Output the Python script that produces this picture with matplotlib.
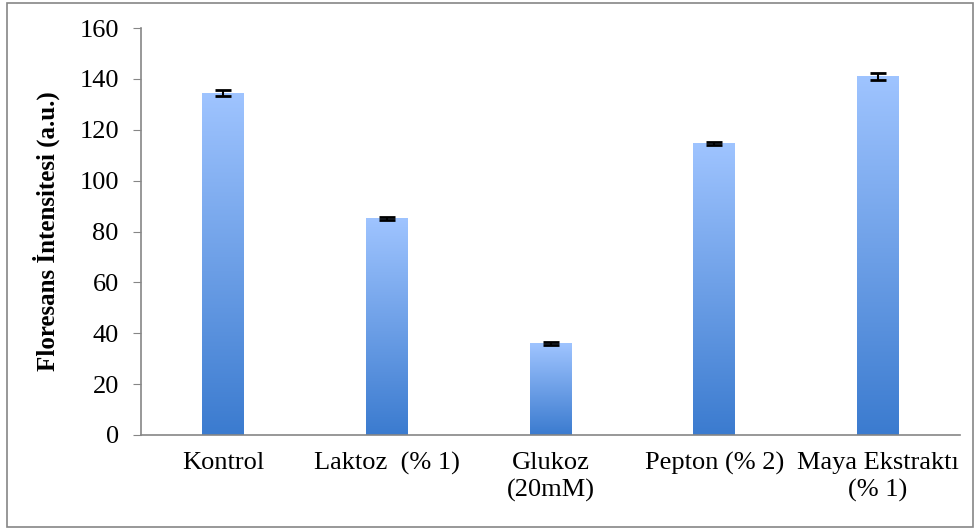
import numpy as np
import matplotlib.pyplot as plt
from matplotlib.patches import Rectangle
from matplotlib.colors import LinearSegmentedColormap

# veriler
kategoriler = ['Kontrol', 'Laktoz  (% 1)', 'Glukoz\n(20mM)', 'Pepton (% 2)', 'Maya Ekstraktı\n(% 1)']
degerler = [134.5, 85.2, 36.0, 114.6, 141.0]
hatalar = [1.0, 0.5, 0.5, 0.5, 1.5]

plt.rcParams['font.family'] = ['Liberation Serif', 'DejaVu Serif']

fig = plt.figure(figsize=(9.8, 5.31), dpi=100)
ax = fig.add_axes([0.1439, 0.181, 0.8357, 0.766])

x = np.arange(len(kategoriler))
bars = ax.bar(x, degerler, width=0.256, color='none', zorder=2)

# gradyan dolgu
cmap = LinearSegmentedColormap.from_list('mavi', ['#3b7bcf', '#9fc4ff'])
grad = np.linspace(0, 1, 256).reshape(-1, 1)
for b in bars:
    x0, w, h = b.get_x(), b.get_width(), b.get_height()
    ax.imshow(grad, cmap=cmap, origin='lower', aspect='auto',
              extent=[x0, x0 + w, 0, h], zorder=2)

ax.errorbar(x, degerler, yerr=hatalar, fmt='none', ecolor='black',
            elinewidth=1.5, capsize=6, capthick=2, zorder=3)

ax.set_xlim(-0.5, len(kategoriler) - 0.5)
ax.set_ylim(0, 160)
ax.set_yticks(range(0, 161, 20))
ax.set_xticks(x)
ax.set_xticklabels(kategoriler, fontsize=19, linespacing=1.3)
ax.tick_params(axis='y', labelsize=19, length=6, color='#868686', pad=10)
ax.tick_params(axis='x', length=0, pad=12)
ax.set_ylabel('Floresans İntensitesi (a.u.)', fontsize=18, fontweight='bold', labelpad=14)

for s in ['top', 'right']:
    ax.spines[s].set_visible(False)
for s in ['left', 'bottom']:
    ax.spines[s].set_color('#868686')
    ax.spines[s].set_linewidth(1.2)

# dış çerçeve
fig.patches.append(Rectangle((0.007, 0.008), 0.986, 0.986, transform=fig.transFigure,
                             fill=False, edgecolor='#868686', linewidth=1.2))

plt.savefig('out.png', dpi=100)
